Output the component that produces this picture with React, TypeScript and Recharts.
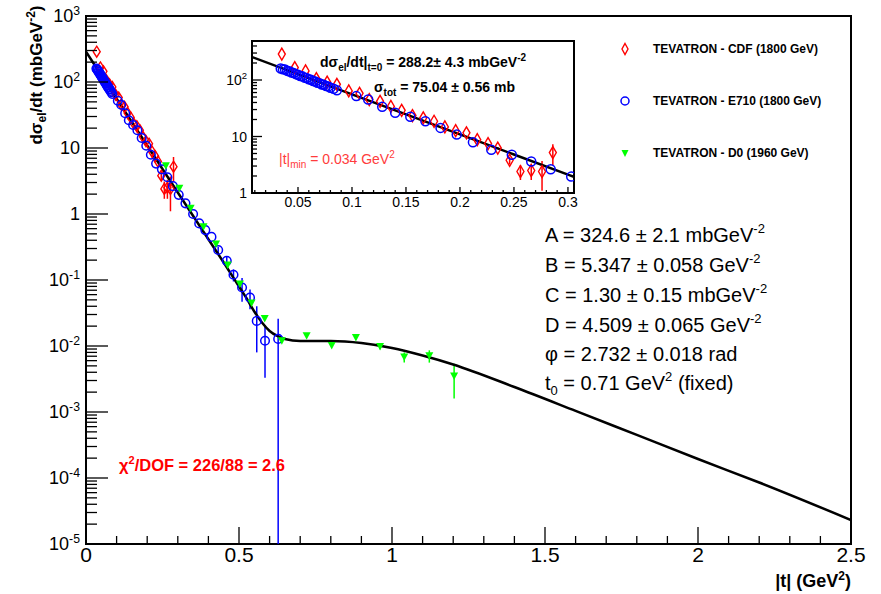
import React from "react";
import {
  ComposedChart,
  Line,
  Scatter,
  XAxis,
  YAxis,
  ErrorBar,
  ReferenceArea,
} from "recharts";

const FONT = "'Liberation Sans', Arial, Helvetica, sans-serif";

// CDF, 1800 GeV
const cdfT = [
  0.035, 0.047, 0.057, 0.067, 0.077, 0.086, 0.097, 0.107, 0.116, 0.126, 0.136,
  0.146, 0.156, 0.166, 0.176, 0.186, 0.196, 0.206, 0.216, 0.226, 0.235, 0.246,
  0.256, 0.266, 0.276, 0.286,
];
const cdfV = [
  288, 166, 145, 106, 92, 84, 64, 58, 45, 42, 34, 29, 23.5, 21.4, 18.6, 14.8,
  12.7, 11.6, 8.8, 7.5, 6.25, 3.8, 2.4, 2.5, 2.4, 5.2,
];
const cdfErr = [
  0, 0, 0, 0, 0, 0, 0, 0, 0, 0, 0, 0, 0, 0, 0, 0, 0, 0, 0, 0, 0.3, 0.6, 0.7,
  0.8, 1.3, 2.1,
];

// E710, 1800 GeV
const e710T = [
  0.034, 0.036, 0.038, 0.04, 0.042, 0.044, 0.046, 0.048, 0.05, 0.052, 0.054,
  0.056, 0.058, 0.06, 0.062, 0.064, 0.066, 0.068, 0.07, 0.072, 0.074, 0.076,
  0.078, 0.08, 0.083, 0.086, 0.104, 0.115, 0.128, 0.14, 0.154, 0.168, 0.182,
  0.197, 0.212, 0.229, 0.248, 0.266, 0.284, 0.303, 0.325, 0.35, 0.37, 0.39,
  0.41, 0.432, 0.46, 0.482, 0.51, 0.536, 0.558, 0.585, 0.628,
];
const e710V = [
  160, 155, 153, 145, 143, 136, 133, 127, 124, 118, 116, 110, 108, 103, 101, 96,
  94, 89, 88, 83, 82, 78, 77, 73, 70, 66, 51.9, 45.3, 33.6, 26.3, 22.3, 18.6,
  14.2, 10.8, 7.9, 5.8, 4.75, 3.6, 2.64, 1.95, 1.45, 1.0, 0.72, 0.57, 0.45,
  0.285, 0.195, 0.12, 0.077, 0.054, 0.024, 0.012, 0.0128,
];
const e710Err = [
  0, 0, 0, 0, 0, 0, 0, 0, 0, 0, 0, 0, 0, 0, 0, 0, 0, 0, 0, 0, 0, 0, 0, 0, 0, 0,
  0, 0, 0, 0, 0, 0, 0, 0, 0, 0, 0, 0, 0, 0, 0, 0, 0, 0, 0, 0.03, 0.03, 0.025,
  0.03, 0.018, 0.016, 0.0087, 0.013,
];

// D0, 1960 GeV
const d0T = [
  0.261, 0.305, 0.342, 0.384, 0.425, 0.463, 0.503, 0.541, 0.584, 0.64, 0.721,
  0.803, 0.882, 0.961, 1.04, 1.122, 1.203,
];
const d0V = [
  5.4, 2.45, 1.22, 0.64, 0.35, 0.169, 0.087, 0.045, 0.026, 0.012, 0.0143,
  0.0102, 0.0135, 0.0098, 0.0068, 0.0071, 0.0035,
];
const d0Err = [
  0, 0, 0, 0, 0, 0, 0, 0, 0, 0, 0, 0.0006, 0.0008, 0.0009, 0.0012, 0.0015,
  0.0019,
];

// fitted curve
const fitT = [
  0, 0.1, 0.2, 0.3, 0.4, 0.45, 0.5, 0.525, 0.55, 0.575, 0.6, 0.625, 0.65, 0.7,
  0.8, 0.9, 1.0, 1.1, 1.2, 1.4, 1.6, 1.8, 2.0, 2.2, 2.5,
];
const fitV = [
  288, 55.7, 10.9, 2.12, 0.415, 0.184, 0.0798, 0.0525, 0.0333, 0.0227, 0.0169,
  0.0142, 0.0128, 0.0119, 0.0119, 0.0111, 0.00933, 0.00718, 0.00525, 0.00239,
  0.00104, 0.000449, 0.000194, 0.0000855, 0.0000231,
];

// axes
const mainXMajor = [0, 0.5, 1, 1.5, 2, 2.5];
const mainYExp = [-5, -4, -3, -2, -1, 0, 1, 2, 3];
const insetXMajor = [0.05, 0.1, 0.15, 0.2, 0.25, 0.3];

const MAIN_X: [number, number] = [0, 2.5];
const MAIN_Y: [number, number] = [1e-5, 1e3];
const INSET_X: [number, number] = [0.0074, 0.3056];
const INSET_Y: [number, number] = [1, 490];

const toPoints = (ts: number[], vs: number[], errs: number[], yMin: number) =>
  ts.map((t, i) => ({
    t,
    v: vs[i],
    e: [Math.min(errs[i], vs[i] - yMin), errs[i]],
  }));

const cdfData = toPoints(cdfT, cdfV, cdfErr, MAIN_Y[0]);
const e710Data = toPoints(e710T, e710V, e710Err, MAIN_Y[0]);
const d0Data = toPoints(d0T, d0V, d0Err, MAIN_Y[0]);
const fitData = fitT.map((t, i) => ({ t, v: fitV[i] }));

const insetCdf = cdfData.filter((d) => d.t <= INSET_X[1]);
const insetE710 = e710Data.filter((d) => d.t <= INSET_X[1]);
const insetFit = fitData.filter((d) => d.t <= 0.4);

// tick positions: majors plus minor subdivisions
const mainXTicks = Array.from({ length: 26 }, (_, i) => i / 10);
const mainYTicks: number[] = [];
mainYExp.slice(0, -1).forEach((n) => {
  for (let k = 1; k < 10; k++) mainYTicks.push(k * Math.pow(10, n));
});
mainYTicks.push(1e3);
const insetXTicks = Array.from({ length: 30 }, (_, i) => (i + 1) / 100);
const insetYTicks: number[] = [];
for (let k = 1; k < 10; k++) insetYTicks.push(k, k * 10);
[100, 200, 300, 400].forEach((v) => insetYTicks.push(v));
insetYTicks.sort((a, b) => a - b);

const isDecade = (v: number) => {
  const l = Math.log10(v);
  return Math.abs(l - Math.round(l)) < 1e-9;
};
const isMajor = (v: number, majors: number[]) =>
  majors.some((m) => Math.abs(m - v) < 1e-9);

function PowerLabel({ x, y, n, size }: { x: number; y: number; n: number; size: number }) {
  const common = { x, y, textAnchor: "end" as const, fontSize: size, fontFamily: FONT, fill: "#000" };
  if (n === 0) return <text {...common}>1</text>;
  if (n === 1) return <text {...common}>10</text>;
  return (
    <text {...common}>
      10
      <tspan dy={-size * 0.42} fontSize={size * 0.68}>
        {n}
      </tspan>
    </text>
  );
}

const makeYTick =
  (majorLen: number, minorLen: number, size: number, gap: number) =>
  (props: any) => {
    const { x, y, payload } = props;
    const v = payload.value as number;
    const major = isDecade(v);
    return (
      <g>
        <line x1={x} x2={x + (major ? majorLen : minorLen)} y1={y} y2={y} stroke="#000" strokeWidth={1.3} />
        {major && <PowerLabel x={x - gap} y={y + size * 0.36} n={Math.round(Math.log10(v))} size={size} />}
      </g>
    );
  };

const makeXTick =
  (majors: number[], majorLen: number, minorLen: number, size: number, gap: number) =>
  (props: any) => {
    const { x, y, payload } = props;
    const v = payload.value as number;
    const major = isMajor(v, majors);
    return (
      <g>
        <line x1={x} x2={x} y1={y} y2={y - (major ? majorLen : minorLen)} stroke="#000" strokeWidth={1.3} />
        {major && (
          <text x={x} y={y + gap} textAnchor="middle" fontSize={size} fontFamily={FONT} fill="#000">
            {String(v)}
          </text>
        )}
      </g>
    );
  };

const diamondShape =
  (w: number, h: number) =>
  (p: any) => {
    const { cx, cy } = p;
    if (cx == null || cy == null) return <g />;
    return (
      <path
        d={`M${cx},${cy - h}L${cx + w},${cy}L${cx},${cy + h}L${cx - w},${cy}Z`}
        fill="none"
        stroke="#ff0000"
        strokeWidth={1.4}
      />
    );
  };

const circleShape =
  (r: number) =>
  (p: any) => {
    const { cx, cy } = p;
    if (cx == null || cy == null) return <g />;
    return <circle cx={cx} cy={cy} r={r} fill="none" stroke="#0000ff" strokeWidth={1.5} />;
  };

const triangleShape = (p: any) => {
  const { cx, cy } = p;
  if (cx == null || cy == null) return <g />;
  return (
    <path d={`M${cx - 4},${cy - 3.5}L${cx + 4},${cy - 3.5}L${cx},${cy + 4}Z`} fill="#00ff00" stroke="none" />
  );
};

function MainChart() {
  return (
    <ComposedChart width={881} height={594} margin={{ top: 16, right: 30, bottom: 0, left: 0 }}>
      <XAxis
        dataKey="t"
        type="number"
        domain={MAIN_X}
        allowDataOverflow
        ticks={mainXTicks}
        interval={0}
        height={50}
        axisLine={false}
        tickLine={false}
        tickSize={0}
        tickMargin={0}
        tick={makeXTick(mainXMajor, 17, 8, 21, 18)}
      />
      <YAxis
        dataKey="v"
        type="number"
        scale="log"
        domain={MAIN_Y}
        allowDataOverflow
        ticks={mainYTicks}
        interval={0}
        width={86}
        axisLine={false}
        tickLine={false}
        tickSize={0}
        tickMargin={0}
        tick={makeYTick(22, 11, 18, 6)}
      />
      <ReferenceArea x1={MAIN_X[0]} x2={MAIN_X[1]} y1={MAIN_Y[0]} y2={MAIN_Y[1]} fill="none" stroke="#000" strokeWidth={2} />
      <Scatter data={cdfData} dataKey="v" shape={diamondShape(3.5, 5.5)} isAnimationActive={false}>
        <ErrorBar dataKey="e" direction="y" width={0} stroke="#ff0000" strokeWidth={1.5} />
      </Scatter>
      <Scatter data={e710Data} dataKey="v" shape={circleShape(4.3)} isAnimationActive={false}>
        <ErrorBar dataKey="e" direction="y" width={0} stroke="#0000ff" strokeWidth={1.5} />
      </Scatter>
      <Scatter data={d0Data} dataKey="v" shape={triangleShape} isAnimationActive={false}>
        <ErrorBar dataKey="e" direction="y" width={0} stroke="#00ff00" strokeWidth={1.5} />
      </Scatter>
      <Line data={fitData} dataKey="v" type="monotone" stroke="#000" strokeWidth={2.5} dot={false} activeDot={false} isAnimationActive={false} />
    </ComposedChart>
  );
}

function InsetChart() {
  return (
    <ComposedChart width={390} height={190} margin={{ top: 11, right: 16, bottom: 0, left: 0 }}>
      <XAxis
        dataKey="t"
        type="number"
        domain={INSET_X}
        allowDataOverflow
        ticks={insetXTicks}
        interval={0}
        height={27}
        axisLine={false}
        tickLine={false}
        tickSize={0}
        tickMargin={0}
        tick={makeXTick(insetXMajor, 6, 3, 14, 14)}
      />
      <YAxis
        dataKey="v"
        type="number"
        scale="log"
        domain={INSET_Y}
        allowDataOverflow
        ticks={insetYTicks}
        interval={0}
        width={52}
        axisLine={false}
        tickLine={false}
        tickSize={0}
        tickMargin={0}
        tick={makeYTick(10, 5, 14, 5)}
      />
      <ReferenceArea x1={INSET_X[0]} x2={INSET_X[1]} y1={INSET_Y[0]} y2={INSET_Y[1]} fill="none" stroke="#000" strokeWidth={2} />
      <Scatter data={insetCdf} dataKey="v" shape={diamondShape(3.5, 6)} isAnimationActive={false}>
        <ErrorBar dataKey="e" direction="y" width={0} stroke="#ff0000" strokeWidth={1.5} />
      </Scatter>
      <Scatter data={insetE710} dataKey="v" shape={circleShape(4.5)} isAnimationActive={false} />
      <Line data={insetFit} dataKey="v" type="monotone" stroke="#000" strokeWidth={2.5} dot={false} activeDot={false} isAnimationActive={false} />
    </ComposedChart>
  );
}

// titles, fit results and legend
function Labels() {
  const sub = (s: string, size: number, d: number) => (
    <tspan dy={d} fontSize={size}>
      {s}
    </tspan>
  );
  return (
    <svg
      width={881}
      height={594}
      style={{ position: "absolute", left: 0, top: 0, pointerEvents: "none", whiteSpace: "pre" }}
      fontFamily={FONT}
    >
      <text transform="translate(42,75) rotate(-90)" textAnchor="middle" fontSize={17} fontWeight="bold">
        dσ{sub("el", 12, 4)}
        <tspan dy={-4}>/dt (mbGeV</tspan>
        {sub("-2", 12, -7)}
        <tspan dy={7}>)</tspan>
      </text>
      <text x={851} y={587} textAnchor="end" fontSize={18} fontWeight="bold">
        |t| (GeV{sub("2", 12, -7)}
        <tspan dy={7}>)</tspan>
      </text>

      <text x={320} y={67} fontSize={14} fontWeight="bold">
        dσ{sub("el", 10, 4)}
        <tspan dy={-4}>/dt|</tspan>
        {sub("t=0", 10, 4)}
        <tspan dy={-4}> = 288.2± 4.3 mbGeV</tspan>
        {sub("-2", 10, -6)}
      </text>
      <text x={374} y={92} fontSize={14} fontWeight="bold">
        σ{sub("tot", 10, 4)}
        <tspan dy={-4}> = 75.04 ± 0.56 mb</tspan>
      </text>
      <text x={279} y={164} fontSize={14} fill="#ff3c3c">
        |t|{sub("min", 10, 4)}
        <tspan dy={-4}> = 0.034 GeV</tspan>
        {sub("2", 10, -6)}
      </text>

      <g fontSize={20}>
        <text x={545} y={242}>
          {"A = 324.6  ± 2.1  mbGeV"}
          {sub("-2", 13, -9)}
        </text>
        <text x={545} y={272}>
          {"B = 5.347 ± 0.058 GeV"}
          {sub("-2", 13, -9)}
        </text>
        <text x={545} y={302}>
          {"C = 1.30 ± 0.15 mbGeV"}
          {sub("-2", 13, -9)}
        </text>
        <text x={545} y={332}>
          {"D = 4.509 ± 0.065 GeV"}
          {sub("-2", 13, -9)}
        </text>
        <text x={545} y={361}>φ = 2.732 ± 0.018 rad</text>
        <text x={545} y={390}>
          t{sub("0", 13, 5)}
          <tspan dy={-5}> = 0.71 GeV</tspan>
          {sub("2", 13, -9)}
          <tspan dy={9}> (fixed)</tspan>
        </text>
      </g>

      <text x={119} y={471} fontSize={16.5} fontWeight="bold" fill="#ff0000">
        χ{sub("2", 11, -7)}
        <tspan dy={7}>/DOF = 226/88 = 2.6</tspan>
      </text>

      <path d="M625,43.5L628,49L625,54.5L622,49Z" fill="none" stroke="#ff0000" strokeWidth={1.4} />
      <circle cx={625} cy={101} r={4} fill="none" stroke="#0000ff" strokeWidth={1.5} />
      <path d="M621.5,150L628.5,150L625,157Z" fill="#00ff00" />
      <g fontSize={12} fontWeight="bold">
        <text x={653} y={53}>TEVATRON - CDF (1800 GeV)</text>
        <text x={653} y={105}>TEVATRON - E710 (1800 GeV)</text>
        <text x={653} y={157}>TEVATRON - D0 (1960 GeV)</text>
      </g>
    </svg>
  );
}

export default function App() {
  return (
    <div style={{ position: "absolute", left: 0, top: 0, width: 881, height: 594, background: "#fff", fontFamily: FONT }}>
      <MainChart />
      <div style={{ position: "absolute", left: 200, top: 30 }}>
        <InsetChart />
      </div>
      <Labels />
    </div>
  );
}
